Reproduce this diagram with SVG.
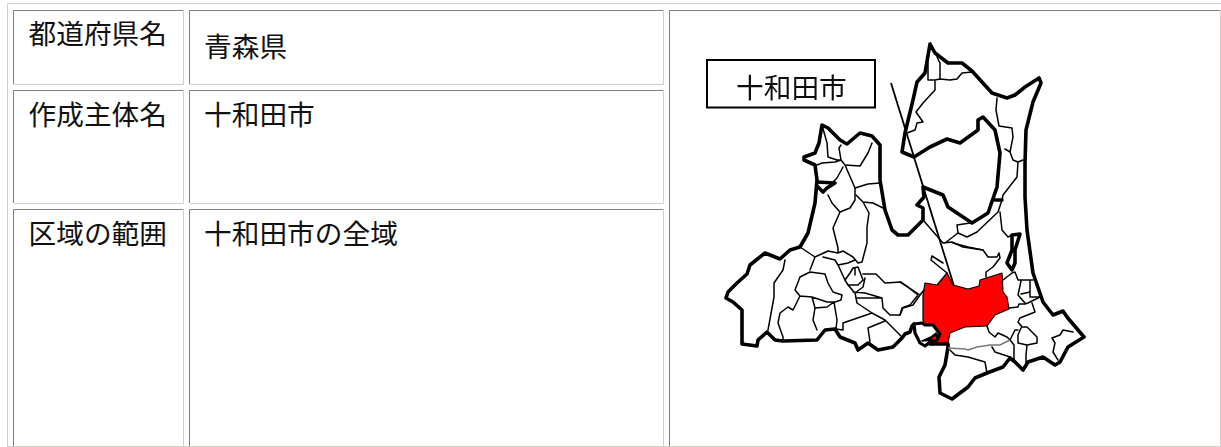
<svg xmlns="http://www.w3.org/2000/svg" width="1221" height="447" viewBox="0 0 1221 447">
<style>
.t{font-family:"Noto Sans CJK JP","Liberation Sans",sans-serif;font-size:27.7px;fill:#111}
.g{fill:none;stroke:#808080;stroke-width:1}
.l{fill:none;stroke:#d4d0c8;stroke-width:1}
.k{fill:none;stroke:#000;stroke-width:3.600;stroke-linejoin:round;stroke-linecap:round}
.n{fill:none;stroke:#000;stroke-width:1.500;stroke-linejoin:round;stroke-linecap:round}
</style>
<defs><filter id="soft" x="-5%" y="-5%" width="110%" height="110%"><feGaussianBlur stdDeviation="0.35"/></filter></defs>
<rect width="1221" height="447" fill="#fff"/>
<g id="table">
<path class="l" d="M7.500 447V3.500H1221M7 446.500H1221"/>
<path class="g" d="M13.500 84V10.500H183M13.500 203V90.500H183M13.500 446V209.500H183M189.500 84V10.500H663M189.500 203V90.500H663M189.500 446V209.500H663M669.500 446V10.500H1220"/>
<path class="l" d="M14 84.500H183.500V10M14 203.500H183.500V90M14 446.500H183.500V209M190 84.500H663.500V10M190 203.500H663.500V90M190 446.500H663.500V209M670 446.500H1220.500V10"/>
<text class="t" x="28.500" y="44">都道府県名</text>
<text class="t" x="204" y="57">青森県</text>
<text class="t" x="28.500" y="125">作成主体名</text>
<text class="t" x="204" y="125">十和田市</text>
<text class="t" x="28.500" y="244">区域の範囲</text>
<text class="t" x="204" y="244">十和田市の全域</text>
</g>
<g id="map" filter="url(#soft)">
<path fill="#fff" stroke="none" d="M930 44L935 53 948 63 962 63 972 71 992 93 1007 98 1015 95 1025 87 1039 78 1041 83 1033 102 1026 130 1025 163 1025 197 1027 230 1033 273 1043 302 1053 315 1063 311 1067 317 1084 337 1068 347 1060 362 1055 365 1043 357 1028 362 1023 370 1015 362 1003 367 987 373 975 378 968 387 952 399 940 393 939 377 945 365 948 347 927 345 902 338 893 347 878 350 868 343 858 350 855 343 840 337 835 329 825 330 817 340 783 341 775 340 767 332 758 340 757 346 742 344 742 310 733 302 726 298 728 292 737 283 747 274 750 265 765 253 780 259 790 250 800 247 808 233 815 203 817 180 815 165 804 160 804 157 815 153 819 143 822 125 828 128 840 140 847 144 860 133 872 136 880 145 880 180 885 210 892 230 898 235 908 235 922 223 923 187z"/>
<path id="towada-city" fill="#f00" stroke="#000" stroke-width="1.200" stroke-linejoin="round" d="M947 273L953 285 968 289 979 286 980 280 1002 273 1003 292 1007 297 1009 309 995 315 987 326 965 327 950 333 948 343 930 345 926 330 923 320 923 295 925 283 937 285z"/>
<g id="boundaries-outer">
<path class="k" d="M930 44L935 53 948 63 962 63 972 71 992 93 1007 98 1015 95 1025 87 1039 78 1041 83 1033 102 1026 130 1025 163 1025 197 1027 230 1033 273 1043 302 1053 315 1063 311 1067 317 1084 337 1068 347 1060 362 1055 365 1043 357 1028 362 1023 370 1015 362 1010 358 1003 367 987 373 975 378 968 387 952 399 940 393 939 377 945 365 948 347 948 344 930 344M914 324L912 326 910 332 905 334 902 338 893 347 878 350 868 343 858 350 855 343 840 337 835 329 825 330 817 340 783 341 775 340 767 332 758 340 757 346 742 344 742 310 733 302 726 298 728 292 737 283 747 274 750 265 765 253 780 259 790 250 800 247 808 233 815 203 817 180 815 165 804 160 804 157 815 153 819 143 822 125 828 128 840 140 847 144 860 133 872 136 880 145 880 180 885 210 892 230 898 235 908 235 923 220 923 208 917 205 924 197 923 187 943 195 948 207 972 223 988 213 997 187 1000 153 995 130 983 117 978 120 978 130 960 143 947 139 930 147 914 157 902 152 905 133 913 100 917 82 925 73 930 44"/>
<path class="k" d="M995 200H1002M1012 235L1020 234 1015 250 1015 263 1012 270 1007 263 1012 250z"/>
<path class="k" d="M817 182L835 183 827 188 823 192 818 187" stroke-width="2.500"/>
<path id="lake" fill="#fff" stroke="#000" stroke-width="3.200" stroke-linejoin="round" d="M914 324L922 323 925 325 933 325 940 334 937 340 930 342 925 346 920 343 915 333z"/>
<path fill="#000" stroke="#000" stroke-width="1.500" stroke-linejoin="round" d="M922 341L931 337 936 333 938 336 933 340z"/>
<path fill="#f00" d="M932 338L936 336 936 339 933 340z"/>
</g>
<g id="boundaries-inner">
<path class="n" d="M928 63V80H935L940 79 950 80 957 79 962 73 972 72M937 57L940 63V79M935 80V90L923 103 916 112 923 122 917 123 915 130 907 133"/>
<path class="n" d="M997 98L996 110 999 126 1012 128 1013 137 1010 152 1005 149M1010 152L1013 160 1018 162 1023 160M1018 162L1017 177 1003 195 1002 200 998 212 977 232 967 237 958 233 957 225 970 223M958 233L945 243M923 220L943 243 952 242 963 247 983 250M1000 212L1002 230 1008 237 1012 235"/>
<path class="n" d="M953 243L968 247 983 250 988 257 997 257 999 253 1000 258 993 267 986 272 986 277M943 263L932 256 931 260 947 273M1012 273L1015 272 1018 280H1033M1003 280L1012 273M1021 281L1018 295 1025 303M1030 281V297H1033L1040 297M1021 294L1030 292"/>
<path class="n" d="M1009 308L1018 307 1019 304 1025 304 1028 303 1040 297M1032 303L1035 312 1020 318 1018 322 1022 327H1027L1037 337V343L1027 345 1026 355V367M1021 328L1018 335V343L1027 345M1018 330L1015 330 1010 340 1014 345V360M987 326L989 332 995 337 998 333 1007 337 1010 340M950 350L955 355 968 357 985 362 987 373M992 347L995 352 1010 357 1014 360"/>
<path fill="none" stroke="#777" stroke-width="1.500" d="M948 348L965 349 968 350 977 347 990 345H1000L1010 340"/>
<path class="n" d="M1052 338L1060 335 1063 330 1073 332M1052 338L1055 343 1053 352 1058 360"/>
<path class="n" d="M900 282L908 287 920 295 924 290M920 295L913 305 903 308 900 315"/>
<path class="n" d="M822 125L827 143 828 157 837 160H841L839 148 841 145M841 160L845 165 860 166 868 153 872 143M841 160L835 162 822 163 817 165M843 167L837 178 832 183M845 165L855 188V200L850 208 840 212 832 203 828 195"/>
<path class="n" d="M855 188L868 184 880 183M856 195L863 202 873 203 883 208M863 202L869 213 867 227V243L862 262 858 263M840 212L833 228 838 248V253M800 247L815 257 810 270M815 257L828 251 838 253 843 251 853 257 858 263M823 257L835 260 838 265 848 263 855 260M838 265L845 280"/>
<path class="n" d="M795 290L800 277 810 272 825 274 828 283 833 292 842 295 841 300 835 302H827L812 297 800 296zM785 260L783 270 774 283V297L768 330M800 296L793 310 788 307 780 313 778 323 783 337V341M812 297L815 308 813 320 817 330M815 308L827 307 834 302 837 320 836 329"/>
<path class="n" d="M845 280L848 285H858L863 280 858 267 853 268 850 273zM855 268V275M863 274H876L885 283 901 282 918 295 910 305 902 308 900 315H890L883 308 882 298 865 293 853 292M865 278L863 287 855 293M848 285L855 293 857 303 872 313 885 320 902 337M857 298L882 298M872 313L843 323V330L836 329M885 321L868 328 870 342"/>
</g>
<rect id="label-box" x="707" y="60" width="168" height="47.500" fill="#fff" stroke="#000" stroke-width="2"/>
<text id="label" class="t" x="736" y="98">十和田市</text>
<path id="leader" fill="none" stroke="#000" stroke-width="1.800" d="M891 83L954 286"/>
</g>
</svg>
